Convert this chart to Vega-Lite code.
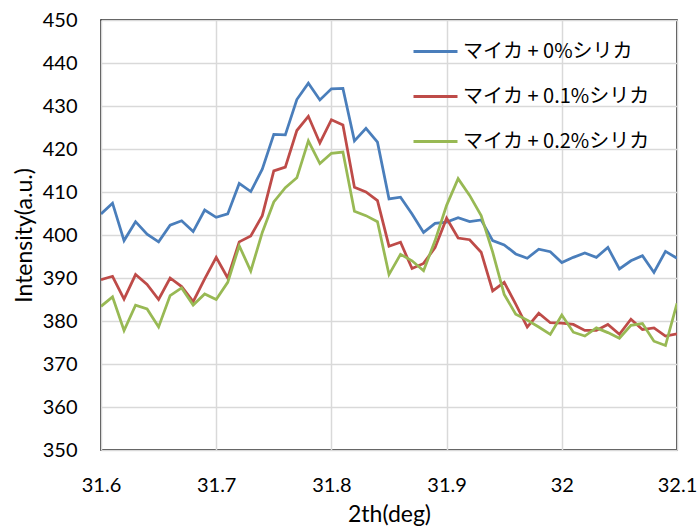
{
  "$schema": "https://vega.github.io/schema/vega-lite/v6.json",
  "autosize": "none",
  "width": 576,
  "height": 430,
  "padding": {"left": 101, "top": 20, "right": 21, "bottom": 78},
  "background": "white",
  "config": {
    "view": {"stroke": "#000000", "strokeWidth": 1.5},
    "axis": {"labelFont": "Lato", "titleFont": "Lato", "labelColor": "#000", "titleColor": "#000", "labelFontSize": 20, "titleFontSize": 23, "titleFontWeight": "normal", "gridColor": "#D9D9D9", "gridWidth": 1.5, "domain": false, "ticks": false, "tickSize": 0}
  },
  "data": {"values": [
    {"x":31.60,"s":"マイカ + 0%シリカ","y":404.9},{"x":31.61,"s":"マイカ + 0%シリカ","y":407.4},{"x":31.62,"s":"マイカ + 0%シリカ","y":398.7},{"x":31.63,"s":"マイカ + 0%シリカ","y":403.1},{"x":31.64,"s":"マイカ + 0%シリカ","y":400.2},{"x":31.65,"s":"マイカ + 0%シリカ","y":398.4},{"x":31.66,"s":"マイカ + 0%シリカ","y":402.3},{"x":31.67,"s":"マイカ + 0%シリカ","y":403.3},{"x":31.68,"s":"マイカ + 0%シリカ","y":400.8},{"x":31.69,"s":"マイカ + 0%シリカ","y":405.8},
    {"x":31.70,"s":"マイカ + 0%シリカ","y":404.1},{"x":31.71,"s":"マイカ + 0%シリカ","y":404.9},{"x":31.72,"s":"マイカ + 0%シリカ","y":412.0},{"x":31.73,"s":"マイカ + 0%シリカ","y":410.1},{"x":31.74,"s":"マイカ + 0%シリカ","y":415.3},{"x":31.75,"s":"マイカ + 0%シリカ","y":423.4},{"x":31.76,"s":"マイカ + 0%シリカ","y":423.3},{"x":31.77,"s":"マイカ + 0%シリカ","y":431.5},{"x":31.78,"s":"マイカ + 0%シリカ","y":435.3},{"x":31.79,"s":"マイカ + 0%シリカ","y":431.4},
    {"x":31.80,"s":"マイカ + 0%シリカ","y":434.0},{"x":31.81,"s":"マイカ + 0%シリカ","y":434.1},{"x":31.82,"s":"マイカ + 0%シリカ","y":421.9},{"x":31.83,"s":"マイカ + 0%シリカ","y":424.8},{"x":31.84,"s":"マイカ + 0%シリカ","y":421.6},{"x":31.85,"s":"マイカ + 0%シリカ","y":408.4},{"x":31.86,"s":"マイカ + 0%シリカ","y":408.8},{"x":31.87,"s":"マイカ + 0%シリカ","y":404.9},{"x":31.88,"s":"マイカ + 0%シリカ","y":400.6},{"x":31.89,"s":"マイカ + 0%シリカ","y":402.7},
    {"x":31.90,"s":"マイカ + 0%シリカ","y":403.0},{"x":31.91,"s":"マイカ + 0%シリカ","y":404.0},{"x":31.92,"s":"マイカ + 0%シリカ","y":403.1},{"x":31.93,"s":"マイカ + 0%シリカ","y":403.5},{"x":31.94,"s":"マイカ + 0%シリカ","y":398.7},{"x":31.95,"s":"マイカ + 0%シリカ","y":397.7},{"x":31.96,"s":"マイカ + 0%シリカ","y":395.6},{"x":31.97,"s":"マイカ + 0%シリカ","y":394.6},{"x":31.98,"s":"マイカ + 0%シリカ","y":396.7},{"x":31.99,"s":"マイカ + 0%シリカ","y":396.1},
    {"x":32.00,"s":"マイカ + 0%シリカ","y":393.6},{"x":32.01,"s":"マイカ + 0%シリカ","y":394.8},{"x":32.02,"s":"マイカ + 0%シリカ","y":395.8},{"x":32.03,"s":"マイカ + 0%シリカ","y":394.8},{"x":32.04,"s":"マイカ + 0%シリカ","y":397.1},{"x":32.05,"s":"マイカ + 0%シリカ","y":392.1},{"x":32.06,"s":"マイカ + 0%シリカ","y":394.0},{"x":32.07,"s":"マイカ + 0%シリカ","y":395.2},{"x":32.08,"s":"マイカ + 0%シリカ","y":391.3},{"x":32.09,"s":"マイカ + 0%シリカ","y":396.2},{"x":32.10,"s":"マイカ + 0%シリカ","y":394.6},

    {"x":31.60,"s":"マイカ + 0.1%シリカ","y":389.6},{"x":31.61,"s":"マイカ + 0.1%シリカ","y":390.4},{"x":31.62,"s":"マイカ + 0.1%シリカ","y":385.1},{"x":31.63,"s":"マイカ + 0.1%シリカ","y":390.8},{"x":31.64,"s":"マイカ + 0.1%シリカ","y":388.5},{"x":31.65,"s":"マイカ + 0.1%シリカ","y":385.0},{"x":31.66,"s":"マイカ + 0.1%シリカ","y":390.0},{"x":31.67,"s":"マイカ + 0.1%シリカ","y":388.0},{"x":31.68,"s":"マイカ + 0.1%シリカ","y":384.5},{"x":31.69,"s":"マイカ + 0.1%シリカ","y":389.8},
    {"x":31.70,"s":"マイカ + 0.1%シリカ","y":394.8},{"x":31.71,"s":"マイカ + 0.1%シリカ","y":390.0},{"x":31.72,"s":"マイカ + 0.1%シリカ","y":398.4},{"x":31.73,"s":"マイカ + 0.1%シリカ","y":399.8},{"x":31.74,"s":"マイカ + 0.1%シリカ","y":404.5},{"x":31.75,"s":"マイカ + 0.1%シリカ","y":414.9},{"x":31.76,"s":"マイカ + 0.1%シリカ","y":415.8},{"x":31.77,"s":"マイカ + 0.1%シリカ","y":424.3},{"x":31.78,"s":"マイカ + 0.1%シリカ","y":427.6},{"x":31.79,"s":"マイカ + 0.1%シリカ","y":421.4},
    {"x":31.80,"s":"マイカ + 0.1%シリカ","y":426.8},{"x":31.81,"s":"マイカ + 0.1%シリカ","y":425.6},{"x":31.82,"s":"マイカ + 0.1%シリカ","y":411.1},{"x":31.83,"s":"マイカ + 0.1%シリカ","y":410.0},{"x":31.84,"s":"マイカ + 0.1%シリカ","y":408.0},{"x":31.85,"s":"マイカ + 0.1%シリカ","y":397.4},{"x":31.86,"s":"マイカ + 0.1%シリカ","y":398.3},{"x":31.87,"s":"マイカ + 0.1%シリカ","y":392.2},{"x":31.88,"s":"マイカ + 0.1%シリカ","y":393.4},{"x":31.89,"s":"マイカ + 0.1%シリカ","y":397.1},
    {"x":31.90,"s":"マイカ + 0.1%シリカ","y":403.9},{"x":31.91,"s":"マイカ + 0.1%シリカ","y":399.3},{"x":31.92,"s":"マイカ + 0.1%シリカ","y":398.9},{"x":31.93,"s":"マイカ + 0.1%シリカ","y":396.0},{"x":31.94,"s":"マイカ + 0.1%シリカ","y":387.0},{"x":31.95,"s":"マイカ + 0.1%シリカ","y":389.0},{"x":31.96,"s":"マイカ + 0.1%シリカ","y":383.9},{"x":31.97,"s":"マイカ + 0.1%シリカ","y":378.6},{"x":31.98,"s":"マイカ + 0.1%シリカ","y":381.8},{"x":31.99,"s":"マイカ + 0.1%シリカ","y":379.6},
    {"x":32.00,"s":"マイカ + 0.1%シリカ","y":379.5},{"x":32.01,"s":"マイカ + 0.1%シリカ","y":379.2},{"x":32.02,"s":"マイカ + 0.1%シリカ","y":377.8},{"x":32.03,"s":"マイカ + 0.1%シリカ","y":377.8},{"x":32.04,"s":"マイカ + 0.1%シリカ","y":379.2},{"x":32.05,"s":"マイカ + 0.1%シリカ","y":376.9},{"x":32.06,"s":"マイカ + 0.1%シリカ","y":380.4},{"x":32.07,"s":"マイカ + 0.1%シリカ","y":378.0},{"x":32.08,"s":"マイカ + 0.1%シリカ","y":378.4},{"x":32.09,"s":"マイカ + 0.1%シリカ","y":376.5},{"x":32.10,"s":"マイカ + 0.1%シリカ","y":377.0},

    {"x":31.60,"s":"マイカ + 0.2%シリカ","y":383.4},{"x":31.61,"s":"マイカ + 0.2%シリカ","y":385.6},{"x":31.62,"s":"マイカ + 0.2%シリカ","y":377.8},{"x":31.63,"s":"マイカ + 0.2%シリカ","y":383.7},{"x":31.64,"s":"マイカ + 0.2%シリカ","y":382.8},{"x":31.65,"s":"マイカ + 0.2%シリカ","y":378.6},{"x":31.66,"s":"マイカ + 0.2%シリカ","y":385.9},{"x":31.67,"s":"マイカ + 0.2%シリカ","y":387.7},{"x":31.68,"s":"マイカ + 0.2%シリカ","y":383.7},{"x":31.69,"s":"マイカ + 0.2%シリカ","y":386.3},
    {"x":31.70,"s":"マイカ + 0.2%シリカ","y":385.0},{"x":31.71,"s":"マイカ + 0.2%シリカ","y":389.0},{"x":31.72,"s":"マイカ + 0.2%シリカ","y":397.5},{"x":31.73,"s":"マイカ + 0.2%シリカ","y":391.6},{"x":31.74,"s":"マイカ + 0.2%シリカ","y":400.6},{"x":31.75,"s":"マイカ + 0.2%シリカ","y":407.7},{"x":31.76,"s":"マイカ + 0.2%シリカ","y":411.0},{"x":31.77,"s":"マイカ + 0.2%シリカ","y":413.3},{"x":31.78,"s":"マイカ + 0.2%シリカ","y":421.9},{"x":31.79,"s":"マイカ + 0.2%シリカ","y":416.6},
    {"x":31.80,"s":"マイカ + 0.2%シリカ","y":419.0},{"x":31.81,"s":"マイカ + 0.2%シリカ","y":419.3},{"x":31.82,"s":"マイカ + 0.2%シリカ","y":405.5},{"x":31.83,"s":"マイカ + 0.2%シリカ","y":404.5},{"x":31.84,"s":"マイカ + 0.2%シリカ","y":403.1},{"x":31.85,"s":"マイカ + 0.2%シリカ","y":390.8},{"x":31.86,"s":"マイカ + 0.2%シリカ","y":395.5},{"x":31.87,"s":"マイカ + 0.2%シリカ","y":394.0},{"x":31.88,"s":"マイカ + 0.2%シリカ","y":391.7},{"x":31.89,"s":"マイカ + 0.2%シリカ","y":398.7},
    {"x":31.90,"s":"マイカ + 0.2%シリカ","y":406.9},{"x":31.91,"s":"マイカ + 0.2%シリカ","y":413.1},{"x":31.92,"s":"マイカ + 0.2%シリカ","y":409.2},{"x":31.93,"s":"マイカ + 0.2%シリカ","y":404.5},{"x":31.94,"s":"マイカ + 0.2%シリカ","y":396.0},{"x":31.95,"s":"マイカ + 0.2%シリカ","y":386.2},{"x":31.96,"s":"マイカ + 0.2%シリカ","y":381.6},{"x":31.97,"s":"マイカ + 0.2%シリカ","y":380.2},{"x":31.98,"s":"マイカ + 0.2%シリカ","y":378.6},{"x":31.99,"s":"マイカ + 0.2%シリカ","y":376.9},
    {"x":32.00,"s":"マイカ + 0.2%シリカ","y":381.4},{"x":32.01,"s":"マイカ + 0.2%シリカ","y":377.4},{"x":32.02,"s":"マイカ + 0.2%シリカ","y":376.5},{"x":32.03,"s":"マイカ + 0.2%シリカ","y":378.4},{"x":32.04,"s":"マイカ + 0.2%シリカ","y":377.3},{"x":32.05,"s":"マイカ + 0.2%シリカ","y":376.0},{"x":32.06,"s":"マイカ + 0.2%シリカ","y":379.0},{"x":32.07,"s":"マイカ + 0.2%シリカ","y":379.4},{"x":32.08,"s":"マイカ + 0.2%シリカ","y":375.3},{"x":32.09,"s":"マイカ + 0.2%シリカ","y":374.3},{"x":32.10,"s":"マイカ + 0.2%シリカ","y":384.1}
  ]},
  "mark": {"type": "line", "strokeWidth": 2.75, "clip": true},
  "encoding": {
    "x": {"field": "x", "type": "quantitative", "title": "2th(deg)",
      "scale": {"domain": [31.6, 32.1], "nice": false, "zero": false},
      "axis": {"values": [31.6, 31.7, 31.8, 31.9, 32, 32.1], "format": "~g", "labelPadding": 25, "titlePadding": 8, "labelFlush": false}},
    "y": {"field": "y", "type": "quantitative", "title": "Intensity(a.u.)",
      "scale": {"domain": [350, 450], "nice": false, "zero": false},
      "axis": {"values": [350, 360, 370, 380, 390, 400, 410, 420, 430, 440, 450], "labelPadding": 24, "titlePadding": 6}},
    "color": {"field": "s", "type": "nominal",
      "scale": {"domain": ["マイカ + 0%シリカ", "マイカ + 0.1%シリカ", "マイカ + 0.2%シリカ"], "range": ["#4A7EBB", "#BE4B48", "#98B954"]},
      "legend": {"title": null, "orient": "none", "legendX": 311, "legendY": 8, "symbolType": "stroke", "symbolSize": 1936, "symbolStrokeWidth": 3, "labelFont": "Noto Sans CJK JP", "labelFontSize": 20, "labelColor": "#000", "labelOffset": 4, "rowPadding": 11, "labelLimit": 300}}
  }
}
